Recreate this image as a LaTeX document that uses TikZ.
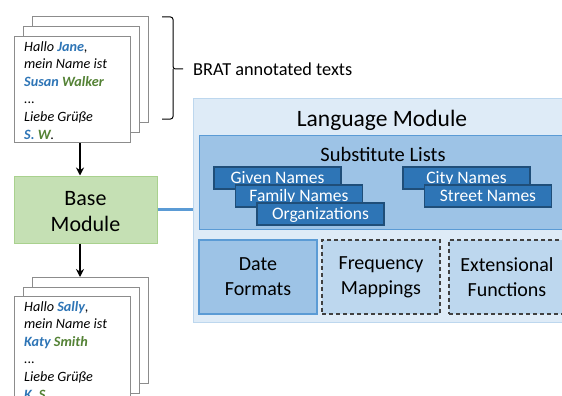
\documentclass[tikz,border=0pt]{standalone}
\usepackage{fontspec}
\setmainfont{Carlito}
\usetikzlibrary{arrows.meta}

\definecolor{pagegray}{HTML}{8C8C8C}
\definecolor{nameblue}{HTML}{2E75B6}
\definecolor{namegreen}{HTML}{548235}
\definecolor{basefill}{HTML}{C5E0B4}
\definecolor{baseline}{HTML}{A9D18E}
\definecolor{langfill}{HTML}{DEEBF7}
\definecolor{langline}{HTML}{BDD7EE}
\definecolor{midfill}{HTML}{9DC3E6}
\definecolor{midline}{HTML}{5B9BD5}
\definecolor{listfill}{HTML}{2E75B6}
\definecolor{listline}{HTML}{1F4E79}
\definecolor{dashline}{HTML}{404040}

\newcommand\bluename[1]{\textbf{\color{nameblue}#1}}
\newcommand\greenname[1]{\textbf{\color{namegreen}#1}}

\begin{document}
\begin{tikzpicture}[x=1pt,y=-1pt,
  page/.style={draw=pagegray, line width=1.2pt, fill=white, anchor=north west,
    minimum width=116pt, minimum height=106pt, inner sep=0pt},
  pagetext/.style={anchor=north west, inner sep=0pt, align=left,
    font=\fontsize{14.2}{17.6}\selectfont\itshape},
  flow/.style={line width=2.2pt, -{Stealth[length=8pt,width=8pt]}},
  listbox/.style={fill=listfill, draw=listline, line width=1.2pt, text=white,
    minimum width=127pt, minimum height=22pt, inner sep=0pt,
    text height=12.5pt, text depth=1pt, font=\fontsize{17.5}{20}\selectfont},
  partbox/.style={minimum width=118pt, minimum height=74pt, inner sep=0pt,
    align=center, font=\fontsize{20}{25}\selectfont},
  solidpart/.style={partbox, fill=midfill, draw=midline, line width=1.2pt},
  dashpart/.style={partbox, fill=langline, draw=dashline, line width=1.2pt,
    dash pattern=on 4pt off 3pt},
]
\useasboundingbox (0,0) rectangle (562,396);
\clip (0,0) rectangle (562,396);

% input documents
\node[page] (tback) at (32,16) {};
\node[page] (tmid) at (23,26) {};
\node[page] (tfront) at (14,36) {};
\node[pagetext] (ttext) at (24,41) {Hallo \bluename{Jane},\\
  mein Name ist\\
  \bluename{Susan} \greenname{Walker}\\
  ...\\
  Liebe Grüße\\
  \bluename{S.} \greenname{W}.};

% brace and caption
\coordinate (bracetop) at (162,17);
\coordinate (bracebot) at (162,119);
\coordinate (bracetip) at (183,69);
\draw[line width=1pt, rounded corners=2.5pt] (bracetop) -| (173,69) -- (bracetip);
\draw[line width=1pt, rounded corners=2.5pt] (bracebot) -| (173,69);
\node[anchor=west, inner sep=0pt, font=\fontsize{18.3}{22}\selectfont] (brat)
  at (193,69.5) {BRAT annotated texts};

% base module
\node[fill=basefill, draw=baseline, line width=1pt, minimum width=143pt,
  minimum height=67pt, inner sep=0pt] (base) at (85.5,209.5) {};
\node[align=center, inner sep=0pt, font=\fontsize{22}{26}\selectfont]
  (basetext) at (85.5,211.5) {Base\\Module};

% output documents
\node[page] (bback) at (32,277) {};
\node[page] (bmid) at (23,287) {};
\node[page] (bfront) at (14,296) {};
\node[pagetext] (btext) at (24,301) {Hallo \bluename{Sally},\\
  mein Name ist\\
  \bluename{Katy} \greenname{Smith}\\
  ...\\
  Liebe Grüße\\
  \bluename{K.} \greenname{S}.};

% language module
\node[fill=langfill, draw=langline, line width=1.2pt, anchor=north west,
  minimum width=378pt, minimum height=224pt, inner sep=0pt] (lang) at (193,98) {};
\node[font=\fontsize{23.5}{27}\selectfont, inner sep=0pt] (langtitle) at (382,120) {Language Module};

\node[fill=midfill, draw=midline, line width=1.2pt, anchor=north west,
  minimum width=366pt, minimum height=94pt, inner sep=0pt] (subst) at (199,135) {};
\node[font=\fontsize{20.5}{24}\selectfont, inner sep=0pt] (substtitle) at (383,154) {Substitute Lists};

\node[listbox] (given) at (277.5,178) {Given Names};
\node[listbox] (family) at (299,196) {Family Names};
\node[listbox] (orgs) at (320.5,214) {Organizations};
\node[listbox] (city) at (466.5,178) {City Names};
\node[listbox] (street) at (488,196) {Street Names};

\node[solidpart] (date) at (258,277) {Date\\Formats};
\node[dashpart] (freq) at (381,277) {Frequency\\Mappings};
\node[dashpart, minimum width=116pt] (ext) at (507,277) {Extensional\\Functions};

% connectors
\coordinate (ax) at (80,0);
\draw[flow] (tfront.south -| ax) -- (base.north -| ax);
\draw[flow] (base.south -| ax) -- (bback.north -| ax);
\draw[midline, line width=2.5pt] (base.east) -- (base.east -| lang.west);
\end{tikzpicture}
\end{document}
